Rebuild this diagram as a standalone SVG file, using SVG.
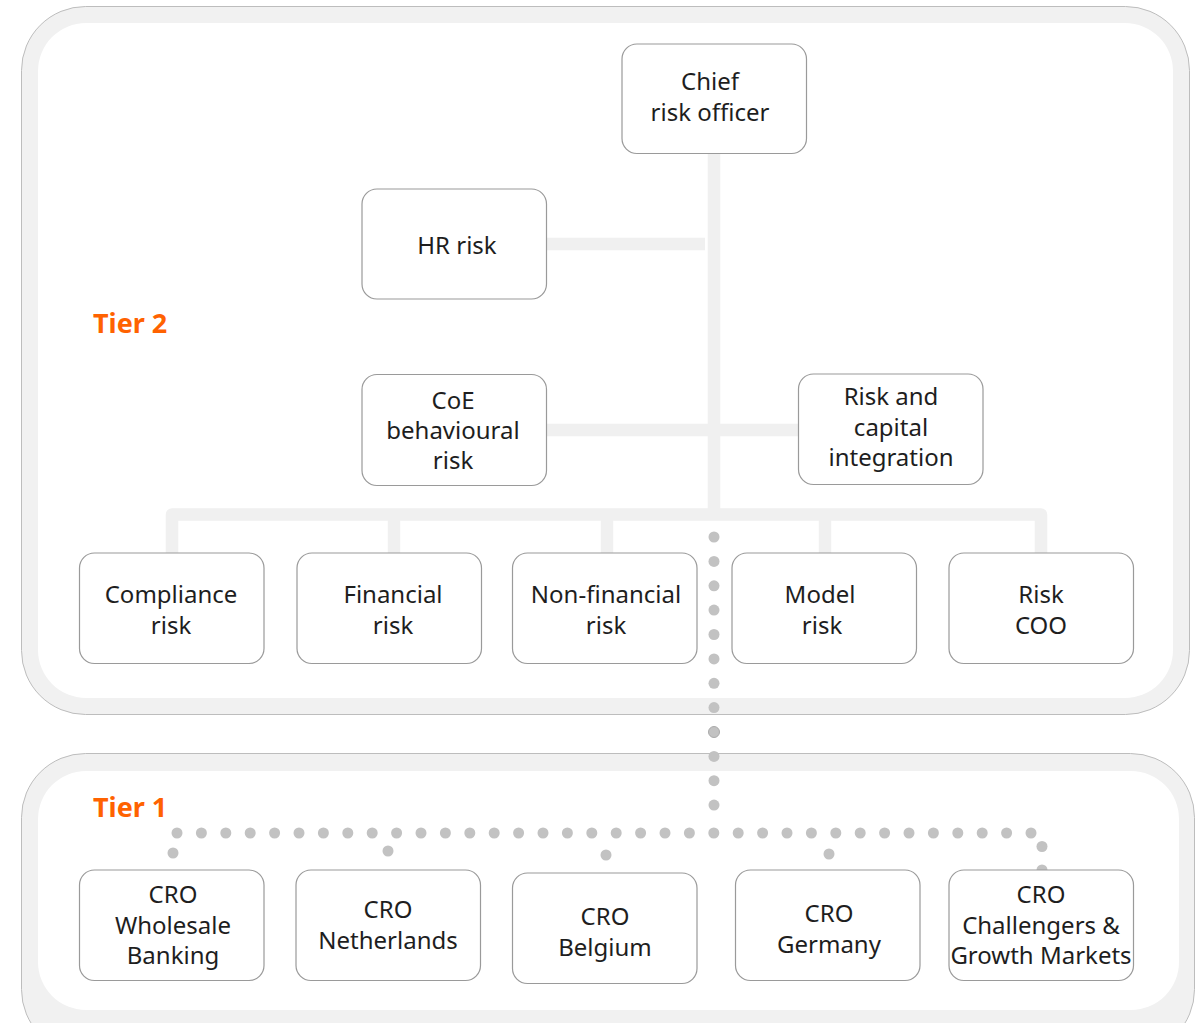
<svg xmlns="http://www.w3.org/2000/svg" width="1200" height="1023" viewBox="0 0 1200 1023">
<style>
.panel{fill:#f1f1f1;stroke:#bdbdbd;stroke-width:1}
.inner{fill:#ffffff}
.box{fill:#ffffff;stroke:#9a9a9a;stroke-width:1.2}
.t{font-family:"Noto Sans","Open Sans",sans-serif;font-size:24px;fill:#1e1e1e;text-anchor:middle}
.tier{font-family:"Noto Sans","Open Sans",sans-serif;font-size:27px;font-weight:bold;fill:#ff6200}
.line{stroke:#f0f0f0;stroke-width:12.5;fill:none;stroke-linejoin:round}
.dot{fill:#c2c2c2}
</style>
<rect width="1200" height="1023" fill="#ffffff"/>
<g id="tier2-panel">
<rect class="panel" x="21.5" y="6.5" width="1168" height="708" rx="64"/>
<rect class="inner" x="38" y="23" width="1135" height="675" rx="48"/>
<text class="tier" x="93" y="333">Tier 2</text>
</g>
<g id="tier1-panel">
<rect class="panel" x="21.5" y="753.5" width="1173" height="300" rx="64"/>
<rect class="inner" x="38" y="771" width="1141" height="239" rx="48"/>
<text class="tier" x="93" y="817">Tier 1</text>
</g>
<g id="connectors">
<line class="line" x1="714" y1="153" x2="714" y2="515"/>
<line class="line" x1="547" y1="244" x2="705" y2="244"/>
<line class="line" x1="547" y1="430" x2="798" y2="430"/>
<path class="line" d="M172,553 V514.5 H1041 V553"/>
<line class="line" x1="394" y1="514" x2="394" y2="553"/>
<line class="line" x1="607" y1="514" x2="607" y2="553"/>
<line class="line" x1="825" y1="514" x2="825" y2="553"/>
<g id="dotted">
<circle class="dot" cx="714" cy="537" r="5.5"/>
<circle class="dot" cx="714" cy="561.4" r="5.5"/>
<circle class="dot" cx="714" cy="585.8" r="5.5"/>
<circle class="dot" cx="714" cy="610.1" r="5.5"/>
<circle class="dot" cx="714" cy="634.5" r="5.5"/>
<circle class="dot" cx="714" cy="658.9" r="5.5"/>
<circle class="dot" cx="714" cy="683.3" r="5.5"/>
<circle class="dot" cx="714" cy="707.6" r="5.5"/>
<circle class="dot" cx="714" cy="732" r="5.5" stroke="#aaaaaa" stroke-width="1"/>
<circle class="dot" cx="714" cy="756.4" r="5.5"/>
<circle class="dot" cx="714" cy="780.7" r="5.5"/>
<circle class="dot" cx="714" cy="805.1" r="5.5"/>
<circle class="dot" cx="177" cy="833" r="5.5"/>
<circle class="dot" cx="201.4" cy="833" r="5.5"/>
<circle class="dot" cx="225.8" cy="833" r="5.5"/>
<circle class="dot" cx="250.2" cy="833" r="5.5"/>
<circle class="dot" cx="274.6" cy="833" r="5.5"/>
<circle class="dot" cx="299" cy="833" r="5.5"/>
<circle class="dot" cx="323.4" cy="833" r="5.5"/>
<circle class="dot" cx="347.8" cy="833" r="5.5"/>
<circle class="dot" cx="372.2" cy="833" r="5.5"/>
<circle class="dot" cx="396.6" cy="833" r="5.5"/>
<circle class="dot" cx="421" cy="833" r="5.5"/>
<circle class="dot" cx="445.4" cy="833" r="5.5"/>
<circle class="dot" cx="469.8" cy="833" r="5.5"/>
<circle class="dot" cx="494.2" cy="833" r="5.5"/>
<circle class="dot" cx="518.6" cy="833" r="5.5"/>
<circle class="dot" cx="543" cy="833" r="5.5"/>
<circle class="dot" cx="567.4" cy="833" r="5.5"/>
<circle class="dot" cx="591.8" cy="833" r="5.5"/>
<circle class="dot" cx="616.2" cy="833" r="5.5"/>
<circle class="dot" cx="640.6" cy="833" r="5.5"/>
<circle class="dot" cx="665" cy="833" r="5.5"/>
<circle class="dot" cx="689.4" cy="833" r="5.5"/>
<circle class="dot" cx="713.8" cy="833" r="5.5"/>
<circle class="dot" cx="738.2" cy="833" r="5.5"/>
<circle class="dot" cx="762.6" cy="833" r="5.5"/>
<circle class="dot" cx="787" cy="833" r="5.5"/>
<circle class="dot" cx="811.4" cy="833" r="5.5"/>
<circle class="dot" cx="835.8" cy="833" r="5.5"/>
<circle class="dot" cx="860.2" cy="833" r="5.5"/>
<circle class="dot" cx="884.6" cy="833" r="5.5"/>
<circle class="dot" cx="909" cy="833" r="5.5"/>
<circle class="dot" cx="933.4" cy="833" r="5.5"/>
<circle class="dot" cx="957.8" cy="833" r="5.5"/>
<circle class="dot" cx="982.2" cy="833" r="5.5"/>
<circle class="dot" cx="1006.6" cy="833" r="5.5"/>
<circle class="dot" cx="1031" cy="833" r="5.5"/>
<circle class="dot" cx="173" cy="853" r="5.5"/>
<circle class="dot" cx="388" cy="851" r="5.5"/>
<circle class="dot" cx="606" cy="855" r="5.5"/>
<circle class="dot" cx="829" cy="854" r="5.5"/>
<circle class="dot" cx="1042" cy="846.5" r="5.5"/>
<circle class="dot" cx="1042" cy="870" r="5.5"/>
</g>
</g>
<g id="chief-risk-officer">
<rect class="box" x="622" y="44" width="184.5" height="109.5" rx="15"/>
<text class="t" x="710" y="90">Chief</text>
<text class="t" x="710" y="121">risk officer</text>
</g>
<g id="hr-risk">
<rect class="box" x="362" y="189" width="184.5" height="110" rx="15"/>
<text class="t" x="457" y="254">HR risk</text>
</g>
<g id="coe-behavioural-risk">
<rect class="box" x="362" y="374.5" width="184.5" height="111" rx="15"/>
<text class="t" x="453" y="409">CoE</text>
<text class="t" x="453" y="439">behavioural</text>
<text class="t" x="453" y="469">risk</text>
</g>
<g id="risk-capital-integration">
<rect class="box" x="798.5" y="374" width="184.5" height="110.5" rx="15"/>
<text class="t" x="891" y="405">Risk and</text>
<text class="t" x="891" y="436">capital</text>
<text class="t" x="891" y="466">integration</text>
</g>
<g id="compliance-risk">
<rect class="box" x="79.5" y="553" width="184.5" height="110.5" rx="15"/>
<text class="t" x="171" y="603">Compliance</text>
<text class="t" x="171" y="634">risk</text>
</g>
<g id="financial-risk">
<rect class="box" x="297" y="553" width="184.5" height="110.5" rx="15"/>
<text class="t" x="393" y="603">Financial</text>
<text class="t" x="393" y="634">risk</text>
</g>
<g id="non-financial-risk">
<rect class="box" x="512.5" y="553" width="184.5" height="110.5" rx="15"/>
<text class="t" x="606" y="603">Non-financial</text>
<text class="t" x="606" y="634">risk</text>
</g>
<g id="model-risk">
<rect class="box" x="732" y="553" width="184.5" height="110.5" rx="15"/>
<text class="t" x="820" y="603">Model</text>
<text class="t" x="822" y="634">risk</text>
</g>
<g id="risk-coo">
<rect class="box" x="949" y="553" width="184.5" height="110.5" rx="15"/>
<text class="t" x="1041" y="603">Risk</text>
<text class="t" x="1041" y="634">COO</text>
</g>
<g id="cro-wholesale-banking">
<rect class="box" x="79.5" y="870" width="184.5" height="110.5" rx="15"/>
<text class="t" x="173" y="903">CRO</text>
<text class="t" x="173" y="934">Wholesale</text>
<text class="t" x="173" y="964">Banking</text>
</g>
<g id="cro-netherlands">
<rect class="box" x="296" y="870" width="184.5" height="110.5" rx="15"/>
<text class="t" x="388" y="918">CRO</text>
<text class="t" x="388" y="949">Netherlands</text>
</g>
<g id="cro-belgium">
<rect class="box" x="512.5" y="873" width="184.5" height="110.5" rx="15"/>
<text class="t" x="605" y="925">CRO</text>
<text class="t" x="605" y="956">Belgium</text>
</g>
<g id="cro-germany">
<rect class="box" x="735.5" y="870" width="184.5" height="110.5" rx="15"/>
<text class="t" x="829" y="922">CRO</text>
<text class="t" x="829" y="953">Germany</text>
</g>
<g id="cro-challengers">
<rect class="box" x="949" y="870" width="184.5" height="110.5" rx="15"/>
<text class="t" x="1041" y="903">CRO</text>
<text class="t" x="1041" y="934">Challengers &amp;</text>
<text class="t" x="1041" y="964">Growth Markets</text>
</g>
</svg>
